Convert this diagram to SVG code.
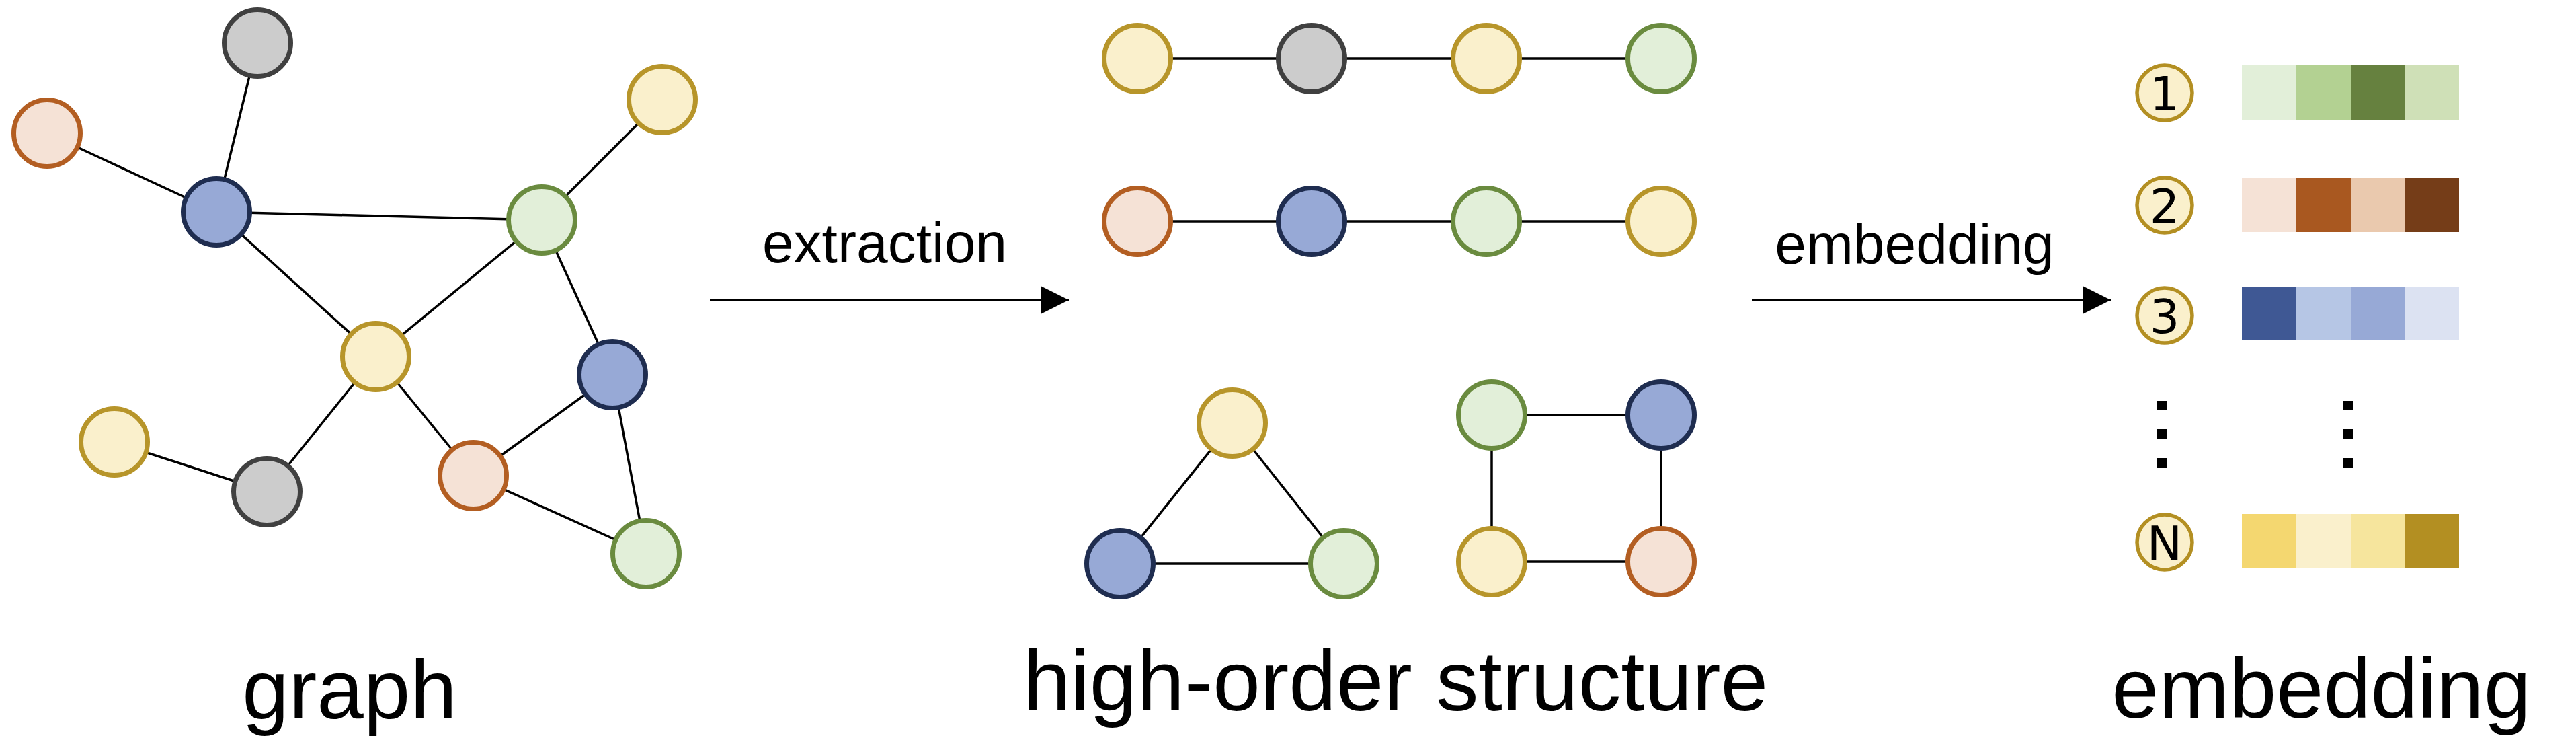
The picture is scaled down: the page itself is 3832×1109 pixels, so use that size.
<svg xmlns="http://www.w3.org/2000/svg" width="3832" height="1109" viewBox="0 0 3832 1109">
<style>
.y{fill:#FAF0CC;stroke:#B7952A;stroke-width:7}
.g{fill:#CCCCCC;stroke:#404040;stroke-width:7}
.o{fill:#F5E2D6;stroke:#B35E22;stroke-width:7}
.b{fill:#97A9D6;stroke:#1F2D50;stroke-width:7}
.n{fill:#E2EFD9;stroke:#6A8B3F;stroke-width:7}
.c{fill:#FAF0CC;stroke:#B38F22;stroke-width:5.5}
.e{stroke:#000;stroke-width:3.5;fill:none}
.t{font-family:"Liberation Sans",Arial,sans-serif;fill:#000}
.num{font-family:"DejaVu Sans","Liberation Sans",sans-serif;font-size:70px;fill:#000;text-anchor:middle}
</style>
<defs>
<marker id="ah" markerWidth="44" markerHeight="42" refX="42" refY="21" markerUnits="userSpaceOnUse" orient="auto">
<path d="M0,0 L42,21 L0,42 Z" fill="#000"/>
</marker>
</defs>
<rect width="3832" height="1109" fill="#fff"/>
<g id="connectors">
<line class="e" x1="383" y1="64" x2="322" y2="315"/>
<line class="e" x1="70" y1="198" x2="322" y2="315"/>
<line class="e" x1="322" y1="315" x2="806" y2="327"/>
<line class="e" x1="322" y1="315" x2="559" y2="530"/>
<line class="e" x1="806" y1="327" x2="985" y2="148"/>
<line class="e" x1="806" y1="327" x2="559" y2="530"/>
<line class="e" x1="806" y1="327" x2="911" y2="557"/>
<line class="e" x1="559" y1="530" x2="397" y2="731"/>
<line class="e" x1="559" y1="530" x2="704" y2="707"/>
<line class="e" x1="170" y1="657" x2="397" y2="731"/>
<line class="e" x1="704" y1="707" x2="911" y2="557"/>
<line class="e" x1="704" y1="707" x2="961" y2="823"/>
<line class="e" x1="911" y1="557" x2="961" y2="823"/>
<line class="e" x1="1692" y1="87" x2="2471" y2="87"/>
<line class="e" x1="1692" y1="329" x2="2471" y2="329"/>
<line class="e" x1="1833" y1="629" x2="1666" y2="838"/>
<line class="e" x1="1833" y1="629" x2="1999" y2="838"/>
<line class="e" x1="1666" y1="838" x2="1999" y2="838"/>
<line class="e" x1="2219" y1="617" x2="2471" y2="617"/>
<line class="e" x1="2219" y1="617" x2="2219" y2="835"/>
<line class="e" x1="2471" y1="617" x2="2471" y2="835"/>
<line class="e" x1="2219" y1="835" x2="2471" y2="835"/>
<line x1="1056" y1="446" x2="1590" y2="446" stroke="#000" stroke-width="3.5" marker-end="url(#ah)"/>
<line x1="2606" y1="446" x2="3140" y2="446" stroke="#000" stroke-width="3.5" marker-end="url(#ah)"/>
</g>
<g id="graph">
<circle id="g1" class="g" cx="383" cy="64" r="49.5"/>
<circle id="g2" class="o" cx="70" cy="198" r="49.5"/>
<circle id="g3" class="b" cx="322" cy="315" r="49.5"/>
<circle id="g4" class="y" cx="985" cy="148" r="49.5"/>
<circle id="g5" class="n" cx="806" cy="327" r="49.5"/>
<circle id="g6" class="y" cx="559" cy="530" r="49.5"/>
<circle id="g7" class="b" cx="911" cy="557" r="49.5"/>
<circle id="g8" class="y" cx="170" cy="657" r="49.5"/>
<circle id="g9" class="g" cx="397" cy="731" r="49.5"/>
<circle id="g10" class="o" cx="704" cy="707" r="49.5"/>
<circle id="g11" class="n" cx="961" cy="823" r="49.5"/>
</g>
<g id="paths">
<circle id="p1" class="y" cx="1692" cy="87" r="49.5"/>
<circle id="p2" class="g" cx="1951" cy="87" r="49.5"/>
<circle id="p3" class="y" cx="2211" cy="87" r="49.5"/>
<circle id="p4" class="n" cx="2471" cy="87" r="49.5"/>
<circle id="p5" class="o" cx="1692" cy="329" r="49.5"/>
<circle id="p6" class="b" cx="1951" cy="329" r="49.5"/>
<circle id="p7" class="n" cx="2211" cy="329" r="49.5"/>
<circle id="p8" class="y" cx="2471" cy="329" r="49.5"/>
</g>
<g id="triangle">
<circle id="t1" class="y" cx="1833" cy="629" r="49.5"/>
<circle id="t2" class="b" cx="1666" cy="838" r="49.5"/>
<circle id="t3" class="n" cx="1999" cy="838" r="49.5"/>
</g>
<g id="square">
<circle id="s1" class="n" cx="2219" cy="617" r="49.5"/>
<circle id="s2" class="b" cx="2471" cy="617" r="49.5"/>
<circle id="s3" class="y" cx="2219" cy="835" r="49.5"/>
<circle id="s4" class="o" cx="2471" cy="835" r="49.5"/>
</g>
<g id="embedding">
<g id="e1">
<circle class="c" cx="3220" cy="138" r="41"/>
<text class="num" x="3220" y="164">1</text>
<rect x="3335" y="97" width="81" height="81" fill="#E2EFD9"/>
<rect x="3416" y="97" width="81" height="81" fill="#B3D192"/>
<rect x="3497" y="97" width="81" height="81" fill="#66813F"/>
<rect x="3578" y="97" width="80" height="81" fill="#CFE0B7"/>
</g>
<g id="e2">
<circle class="c" cx="3220" cy="305" r="41"/>
<text class="num" x="3220" y="331">2</text>
<rect x="3335" y="265" width="81" height="80" fill="#F5E2D6"/>
<rect x="3416" y="265" width="81" height="80" fill="#A95820"/>
<rect x="3497" y="265" width="81" height="80" fill="#EAC9AE"/>
<rect x="3578" y="265" width="80" height="80" fill="#753D18"/>
</g>
<g id="e3">
<circle class="c" cx="3220" cy="469" r="41"/>
<text class="num" x="3220" y="495">3</text>
<rect x="3335" y="426" width="81" height="80" fill="#3F5894"/>
<rect x="3416" y="426" width="81" height="80" fill="#B6C6E5"/>
<rect x="3497" y="426" width="81" height="80" fill="#97A9D6"/>
<rect x="3578" y="426" width="80" height="80" fill="#DCE2F2"/>
</g>
<g id="dots" fill="#000">
<rect x="3209" y="596" width="14" height="14"/>
<rect x="3209" y="638" width="14" height="14"/>
<rect x="3209" y="681" width="14" height="14"/>
<rect x="3486" y="596" width="14" height="14"/>
<rect x="3486" y="638" width="14" height="14"/>
<rect x="3486" y="681" width="14" height="14"/>
</g>
<g id="eN">
<circle class="c" cx="3220" cy="806" r="41"/>
<text class="num" x="3220" y="832">N</text>
<rect x="3335" y="764" width="81" height="80" fill="#F4D770"/>
<rect x="3416" y="764" width="81" height="80" fill="#FAF0CC"/>
<rect x="3497" y="764" width="81" height="80" fill="#F6E59D"/>
<rect x="3578" y="764" width="80" height="80" fill="#B38F22"/>
</g>
</g>
<g id="labels">
<text class="t" x="1316" y="390" font-size="84" text-anchor="middle">extraction</text>
<text class="t" x="2848" y="392" font-size="84" text-anchor="middle">embedding</text>
<text class="t" x="520" y="1068" font-size="125" text-anchor="middle">graph</text>
<text class="t" x="2076" y="1056" font-size="127" text-anchor="middle">high-order structure</text>
<text class="t" x="3453" y="1067" font-size="126" text-anchor="middle">embedding</text>
</g>
</svg>
